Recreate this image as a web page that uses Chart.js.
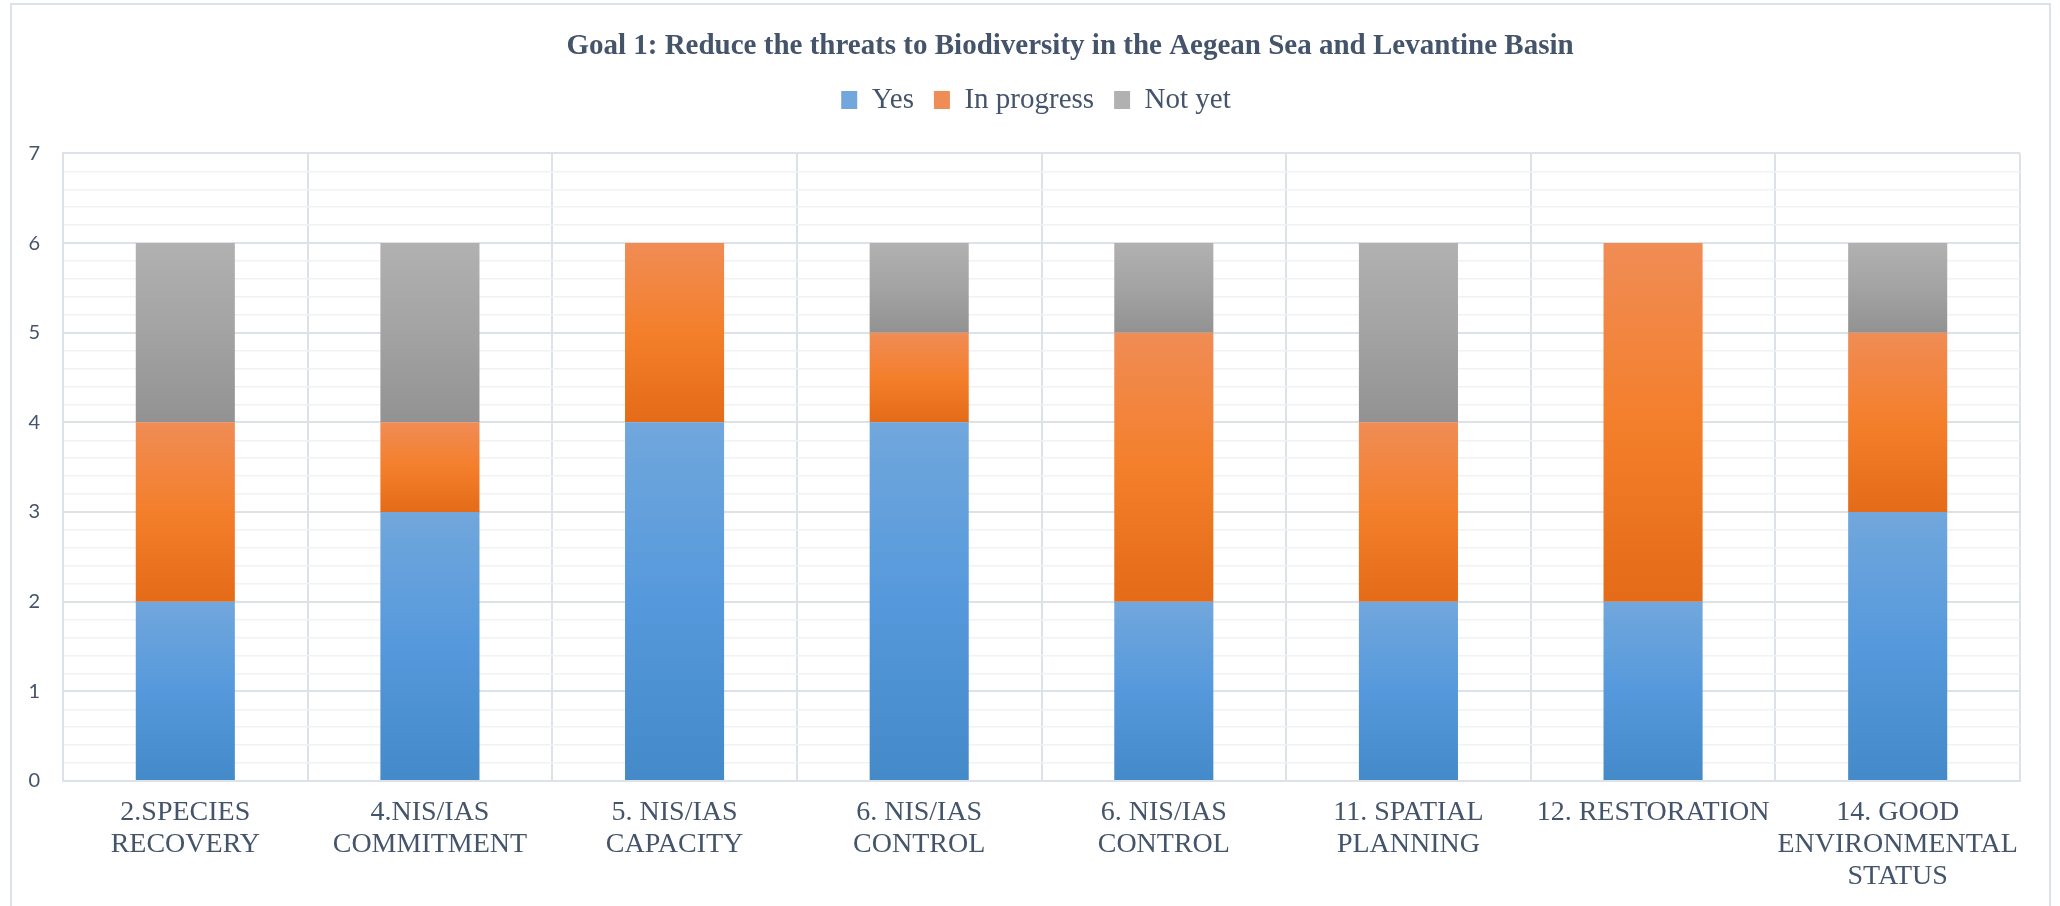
<!DOCTYPE html>
<html>
<head>
<meta charset="utf-8">
<script src="https://cdn.jsdelivr.net/npm/chart.js@4/dist/chart.umd.min.js"></script>
<style>
	html, body { margin: 0; padding: 0; background: #ffffff; }
	#wrap { position: relative; width: 2060px; height: 906px; overflow: hidden; }
	#frame { position: absolute; left: 10px; top: 3px; width: 2041px; height: 1000px; border: 2px solid #dde1e8; box-sizing: border-box; }
	#chart { position: absolute; left: 0; top: 0; }
</style>
</head>
<body>
<div id="wrap">
	<div id="frame"></div>
	<canvas id="chart" width="2060" height="906"></canvas>
</div>
<script>
// Chart data
const categories = [
	['2.SPECIES', 'RECOVERY'],
	['4.NIS/IAS', 'COMMITMENT'],
	['5. NIS/IAS', 'CAPACITY'],
	['6. NIS/IAS', 'CONTROL'],
	['6. NIS/IAS', 'CONTROL'],
	['11. SPATIAL', 'PLANNING'],
	['12. RESTORATION'],
	['14. GOOD', 'ENVIRONMENTAL', 'STATUS']
];
const yesValues = [2, 3, 4, 4, 2, 2, 2, 3];
const inProgressValues = [2, 1, 2, 1, 3, 2, 4, 2];
const notYetValues = [2, 2, 0, 1, 1, 2, 0, 1];
const seriesNames = ['Yes', 'In progress', 'Not yet'];

const textColor = '#44546a';
const majorGrid = '#dde1e8';
const minorGrid = '#f1f2f4';

// vertical gradient for each stacked segment
function segmentGradient(stops) {
	return function(ctx) {
		const chart = ctx.chart;
		if (ctx.type !== 'data' || !chart.chartArea || !chart.scales.y) {
			return stops[1];
		}
		const i = ctx.dataIndex;
		let base = 0;
		for (let k = 0; k < ctx.datasetIndex; k++) {
			base += chart.data.datasets[k].data[i];
		}
		const v = chart.data.datasets[ctx.datasetIndex].data[i];
		const yTop = chart.scales.y.getPixelForValue(base + v);
		const yBot = chart.scales.y.getPixelForValue(base);
		if (!isFinite(yTop) || !isFinite(yBot) || yTop === yBot) {
			return stops[1];
		}
		const g = chart.ctx.createLinearGradient(0, yTop, 0, yBot);
		g.addColorStop(0, stops[0]);
		g.addColorStop(0.5, stops[1]);
		g.addColorStop(1, stops[2]);
		return g;
	};
}

const blueStops = ['#71a7dc', '#5599dc', '#4489c8'];
const orangeStops = ['#f08c55', '#f47f2b', '#e46b18'];
const grayStops = ['#b1b1b1', '#a3a3a3', '#929292'];

// title and legend sit a little right of centre in the original
const shiftHeader = {
	id: 'shiftHeader',
	afterLayout(chart) {
		if (chart.titleBlock) {
			chart.titleBlock.left += 60;
			chart.titleBlock.right += 60;
		}
		if (chart.legend) {
			chart.legend.left += 26;
			chart.legend.right += 26;
		}
	}
};

const ctx = document.getElementById('chart').getContext('2d');

new Chart(ctx, {
	type: 'bar',
	data: {
		labels: categories,
		datasets: [
			{ label: seriesNames[0], data: yesValues, backgroundColor: segmentGradient(blueStops) },
			{ label: seriesNames[1], data: inProgressValues, backgroundColor: segmentGradient(orangeStops) },
			{ label: seriesNames[2], data: notYetValues, backgroundColor: segmentGradient(grayStops) }
		]
	},
	plugins: [shiftHeader],
	options: {
		responsive: false,
		animation: false,
		layout: { padding: { left: 0, right: 40, top: 0, bottom: 0 } },
		datasets: {
			bar: { categoryPercentage: 1.0, barPercentage: 0.405, borderWidth: 0 }
		},
		plugins: {
			title: {
				display: true,
				text: 'Goal 1: Reduce the threats to Biodiversity in the Aegean Sea and Levantine Basin',
				color: textColor,
				font: { family: '"Liberation Serif", "Times New Roman", serif', size: 29, weight: 'bold', lineHeight: 1.2 },
				padding: { top: 29, bottom: 1.6 }
			},
			legend: {
				display: true,
				position: 'top',
				labels: {
					color: textColor,
					font: { family: '"Liberation Serif", "Times New Roman", serif', size: 29 },
					boxWidth: 16,
					boxHeight: 18,
					padding: 20
				}
			},
			// empty spacer between legend and plot
			subtitle: {
				display: true,
				text: '',
				weight: 500,
				padding: 0,
				font: { size: 29, lineHeight: 1 }
			},
			tooltip: { enabled: false }
		},
		scales: {
			x: {
				stacked: true,
				afterFit: function(scale) { scale.height = 125; },
				grid: { color: majorGrid, lineWidth: 2, drawTicks: false, offset: true },
				border: { color: majorGrid, width: 2 },
				ticks: {
					color: textColor,
					padding: 16,
					maxRotation: 0,
					autoSkip: false,
					font: { family: '"Liberation Serif", "Times New Roman", serif', size: 28, lineHeight: 32 / 28 }
				}
			},
			y: {
				stacked: true,
				min: 0,
				max: 7,
				afterFit: function(scale) { scale.width = 63; },
				grid: {
					drawTicks: false,
					lineWidth: function(c) {
						const v = c.tick ? c.tick.value : 0;
						return Math.abs(v - Math.round(v)) < 1e-6 ? 2 : 1.5;
					},
					color: function(c) {
						const v = c.tick ? c.tick.value : 0;
						return Math.abs(v - Math.round(v)) < 1e-6 ? majorGrid : minorGrid;
					}
				},
				border: { color: majorGrid, width: 2 },
				ticks: {
					stepSize: 0.2,
					autoSkip: false,
					padding: 23,
					color: textColor,
					font: { family: 'Lato, "Open Sans", sans-serif', size: 20 },
					callback: function(v) {
						return Math.abs(v - Math.round(v)) < 1e-6 ? String(Math.round(v)) : '';
					}
				}
			}
		}
	}
});
</script>
</body>
</html>
